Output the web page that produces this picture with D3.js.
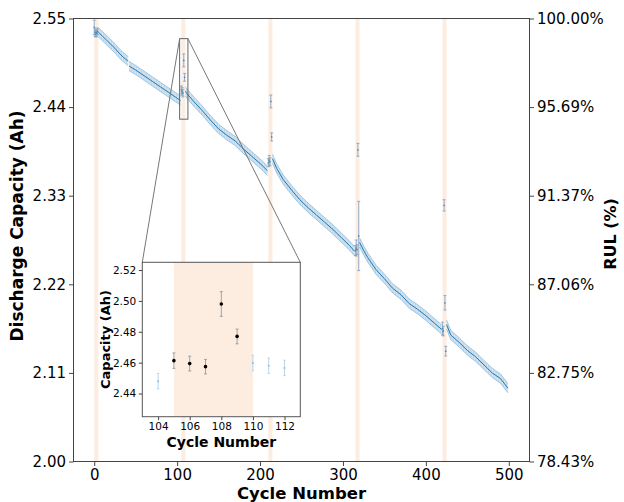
<!DOCTYPE html>
<html>
<head>
<meta charset="utf-8">
<script src="https://cdnjs.cloudflare.com/ajax/libs/d3/7.8.5/d3.min.js"></script>
<style>
  body { margin: 0; background: #fff; }
  text { font-family: "DejaVu Sans", sans-serif; }
</style>
</head>
<body>
<div id="chart"></div>
<script>
// mean discharge capacity per run segment (Ah)
const segACycles = [5, 10, 15, 20, 25, 30, 35, 41];
const segACap = [2.533, 2.528, 2.523, 2.518, 2.513, 2.507, 2.502, 2.497];
const segBCycles = [42, 50, 60, 70, 80, 90, 100, 104];
const segBCap = [2.491, 2.486, 2.479, 2.472, 2.465, 2.458, 2.451, 2.448];
const segCCycles = [110, 111, 112, 120, 130, 140, 150, 160, 170, 180, 190, 200, 209];
const segCCap = [2.4598, 2.458, 2.4566, 2.447, 2.436, 2.424, 2.413, 2.405, 2.398, 2.388, 2.379, 2.370, 2.361];
const segDCycles = [215, 220, 228, 238, 248, 258, 268, 278, 288, 298, 308, 314];
const segDCap = [2.376, 2.364, 2.350, 2.337, 2.325, 2.315, 2.306, 2.297, 2.288, 2.278, 2.268, 2.261];
const segECycles = [320, 325, 330, 340, 350, 360, 370, 380, 390, 400, 410, 419];
const segECap = [2.272, 2.262, 2.253, 2.238, 2.227, 2.215, 2.207, 2.196, 2.189, 2.181, 2.172, 2.164];
const segFCycles = [425, 430, 440, 450, 460, 470, 480, 490, 499];
const segFCap = [2.170, 2.157, 2.148, 2.138, 2.130, 2.120, 2.110, 2.103, 2.091];
const meanErr = 0.0058;

// anomaly cycles inside the shaded windows, with their own error bars
const outCycles = [0, 1, 2, 3, 4, 105, 106, 107, 108, 109, 210, 211, 212, 213, 214, 315, 316, 317, 318, 319, 420, 421, 422, 423, 424];
const outCap = [2.539, 2.533, 2.531, 2.532, 2.534, 2.4613, 2.4594, 2.4574, 2.498, 2.477, 2.371, 2.374, 2.372, 2.447, 2.403, 2.262, 2.265, 2.263, 2.387, 2.280, 2.165, 2.162, 2.318, 2.197, 2.137];
const outErr = [0.009, 0.005, 0.004, 0.004, 0.004, 0.005, 0.0048, 0.0047, 0.008, 0.0048, 0.005, 0.006, 0.005, 0.008, 0.005, 0.006, 0.010, 0.006, 0.008, 0.043, 0.008, 0.006, 0.007, 0.009, 0.006];

const bandStarts = [0, 105, 210, 315, 420];
const bandSpan = 5;

const xTicks = [0, 100, 200, 300, 400, 500];
const yTicks = [2.00, 2.11, 2.22, 2.33, 2.44, 2.55];
const nominalCap = 2.55;

const insetXTicks = [104, 106, 108, 110, 112];
const insetYTicks = [2.44, 2.46, 2.48, 2.50, 2.52];
const insetXDomain = [103, 113];
const insetYDomain = [2.425, 2.525];

const W = 624, H = 502;
const m = { l: 73.5, r: 529.5, t: 18.5, b: 461.5 };
const blue = '#1f77b4';
const peach = '#fdede1';
const spine = '#444';

const segments = [
  [segACycles, segACap], [segBCycles, segBCap], [segCCycles, segCCap],
  [segDCycles, segDCap], [segECycles, segECap], [segFCycles, segFCap]
].map(([cs, vs]) => cs.map((c, i) => ({ c, v: vs[i], e: meanErr })));
const outliers = outCycles.map((c, i) => ({ c, v: outCap[i], e: outErr[i] }));

const x = d3.scaleLinear().domain([-25, 525]).range([m.l, m.r]);
const y = d3.scaleLinear().domain([2.00, 2.55]).range([m.b, m.t]);

const svg = d3.select('#chart').append('svg')
  .attr('width', W).attr('height', H)
  .style('background-color', 'white');

const defs = svg.append('defs');
defs.append('clipPath').attr('id', 'plotclip')
  .append('rect').attr('x', m.l).attr('y', m.t)
  .attr('width', m.r - m.l).attr('height', m.b - m.t);
// faint vertical hatching: the per-cycle error bars inside the band
const hatch = defs.append('pattern').attr('id', 'hatch')
  .attr('patternUnits', 'userSpaceOnUse').attr('width', 1.66).attr('height', 4);
hatch.append('rect').attr('width', 1.66).attr('height', 4).style('fill', blue).style('fill-opacity', 0.18);
hatch.append('line').attr('x1', 0.4).attr('x2', 0.4).attr('y1', 0).attr('y2', 4)
  .style('stroke', blue).style('stroke-opacity', 0.22).style('stroke-width', 0.6);

const plot = svg.append('g').attr('clip-path', 'url(#plotclip)');

// shaded windows
plot.selectAll('rect.band')
  .data(bandStarts)
  .enter().append('rect')
  .attr('class', 'band')
  .attr('x', d => x(d))
  .attr('width', d => x(d + bandSpan) - x(d))
  .attr('y', m.t).attr('height', m.b - m.t)
  .style('fill', peach);

// uncertainty band + mean line per segment
const area = d3.area().x(d => x(d.c)).y0(d => y(d.v - d.e)).y1(d => y(d.v + d.e));
const line = d3.line().x(d => x(d.c)).y(d => y(d.v));
const lineHi = d3.line().x(d => x(d.c)).y(d => y(d.v + d.e));
const lineLo = d3.line().x(d => x(d.c)).y(d => y(d.v - d.e));

segments.forEach(seg => {
  plot.append('path').datum(seg).attr('d', area)
    .style('fill', 'url(#hatch)').style('stroke', 'none');
  [lineHi, lineLo].forEach(l => {
    plot.append('path').datum(seg).attr('d', l)
      .style('fill', 'none').style('stroke', blue)
      .style('stroke-opacity', 0.4).style('stroke-width', 0.8);
  });
  plot.append('path').datum(seg).attr('d', line)
    .style('fill', 'none').style('stroke', blue).style('stroke-width', 1);
});

// anomaly error bars
const ob = plot.selectAll('g.out').data(outliers).enter().append('g').attr('class', 'out');
ob.append('line')
  .attr('x1', d => x(d.c)).attr('x2', d => x(d.c))
  .attr('y1', d => y(d.v - d.e)).attr('y2', d => y(d.v + d.e))
  .style('stroke', '#7d9dbd').style('stroke-width', 0.8);
[1, -1].forEach(s => {
  ob.append('line')
    .attr('x1', d => x(d.c) - 1.5).attr('x2', d => x(d.c) + 1.5)
    .attr('y1', d => y(d.v + s * d.e)).attr('y2', d => y(d.v + s * d.e))
    .style('stroke', '#7d9dbd').style('stroke-width', 0.8);
});
ob.append('circle')
  .attr('cx', d => x(d.c)).attr('cy', d => y(d.v)).attr('r', 0.9)
  .style('fill', blue).style('fill-opacity', 0.7);

// axes
const styleAxis = (g, size) => {
  g.select('.domain').remove();
  g.selectAll('.tick line').style('stroke', spine);
  g.selectAll('.tick text').style('font-size', size + 'px').style('fill', '#000')
    .style('font-family', '"DejaVu Sans", sans-serif');
};

svg.append('g').attr('transform', `translate(0,${m.b})`)
  .call(d3.axisBottom(x).tickValues(xTicks).tickSize(4.5).tickPadding(3))
  .call(g => styleAxis(g, 15));
svg.append('g').attr('transform', `translate(${m.l},0)`)
  .call(d3.axisLeft(y).tickValues(yTicks).tickFormat(d3.format('.2f')).tickSize(4.5).tickPadding(3))
  .call(g => styleAxis(g, 15));
svg.append('g').attr('transform', `translate(${m.r},0)`)
  .call(d3.axisRight(y).tickValues(yTicks)
    .tickFormat(d => (d / nominalCap * 100).toFixed(2) + '%').tickSize(4.5).tickPadding(3))
  .call(g => styleAxis(g, 15));

svg.append('rect')
  .attr('x', m.l).attr('y', m.t).attr('width', m.r - m.l).attr('height', m.b - m.t)
  .style('fill', 'none').style('stroke', spine).style('stroke-width', 1);

svg.append('text')
  .attr('transform', `translate(23,${(m.t + m.b) / 2 - 14}) rotate(-90)`)
  .attr('text-anchor', 'middle')
  .style('font-size', '17px').style('font-weight', 'bold')
  .text('Discharge Capacity (Ah)');
svg.append('text')
  .attr('x', (m.l + m.r) / 2).attr('y', 499)
  .attr('text-anchor', 'middle')
  .style('font-size', '16.5px').style('font-weight', 'bold')
  .text('Cycle Number');
svg.append('text')
  .attr('transform', `translate(616,${(m.t + m.b) / 2 - 6}) rotate(-90)`)
  .attr('text-anchor', 'middle')
  .style('font-size', '16px').style('font-weight', 'bold')
  .text('RUL (%)');

// inset
const ib = { l: 142.3, r: 300.3, t: 262.3, b: 416.7 };
const xi = d3.scaleLinear().domain(insetXDomain).range([ib.l, ib.r]);
const yi = d3.scaleLinear().domain(insetYDomain).range([ib.b, ib.t]);

// zoom marker in main axes and connectors
svg.append('rect')
  .attr('x', x(insetXDomain[0])).attr('y', y(insetYDomain[1]))
  .attr('width', x(insetXDomain[1]) - x(insetXDomain[0]))
  .attr('height', y(insetYDomain[0]) - y(insetYDomain[1]))
  .style('fill', 'none').style('stroke', '#666').style('stroke-width', 1);
svg.append('line')
  .attr('x1', x(insetXDomain[0])).attr('y1', y(insetYDomain[1]))
  .attr('x2', ib.l).attr('y2', ib.t)
  .style('stroke', '#777').style('stroke-width', 1);
svg.append('line')
  .attr('x1', x(insetXDomain[1])).attr('y1', y(insetYDomain[1]))
  .attr('x2', ib.r).attr('y2', ib.t)
  .style('stroke', '#777').style('stroke-width', 1);

const inset = svg.append('g');
inset.append('rect')
  .attr('x', ib.l).attr('y', ib.t).attr('width', ib.r - ib.l).attr('height', ib.b - ib.t)
  .style('fill', '#fff');
inset.selectAll('rect.iband')
  .data(bandStarts.filter(b => b + bandSpan > insetXDomain[0] && b < insetXDomain[1]))
  .enter().append('rect').attr('class', 'iband')
  .attr('x', d => Math.max(ib.l, xi(d)))
  .attr('width', d => Math.min(ib.r, xi(d + bandSpan)) - Math.max(ib.l, xi(d)))
  .attr('y', ib.t).attr('height', ib.b - ib.t)
  .style('fill', peach);

const inRange = d => d.c >= insetXDomain[0] && d.c <= insetXDomain[1];
const normalPts = segments.flat().filter(inRange).map(d => ({ ...d, e: 0.005 }));
const flagged = outliers.filter(inRange);

const drawBars = (pts, color, width, cap) => {
  const g = inset.selectAll(null).data(pts).enter().append('g');
  g.append('line')
    .attr('x1', d => xi(d.c)).attr('x2', d => xi(d.c))
    .attr('y1', d => yi(d.v - d.e)).attr('y2', d => yi(d.v + d.e))
    .style('stroke', color).style('stroke-width', width);
  [1, -1].forEach(s => {
    g.append('line')
      .attr('x1', d => xi(d.c) - cap).attr('x2', d => xi(d.c) + cap)
      .attr('y1', d => yi(d.v + s * d.e)).attr('y2', d => yi(d.v + s * d.e))
      .style('stroke', color).style('stroke-width', width);
  });
  return g;
};
drawBars(normalPts, '#a9cbe4', 0.8, 1.2)
  .append('circle').attr('cx', d => xi(d.c)).attr('cy', d => yi(d.v)).attr('r', 1)
  .style('fill', '#8fbbe0');
drawBars(flagged, '#9a9a9a', 0.9, 1.5)
  .append('circle').attr('cx', d => xi(d.c)).attr('cy', d => yi(d.v)).attr('r', 1.8)
  .style('fill', '#000');

inset.append('g').attr('transform', `translate(0,${ib.b})`)
  .call(d3.axisBottom(xi).tickValues(insetXTicks).tickSize(3.5).tickPadding(2.5))
  .call(g => styleAxis(g, 10.5));
inset.append('g').attr('transform', `translate(${ib.l},0)`)
  .call(d3.axisLeft(yi).tickValues(insetYTicks).tickFormat(d3.format('.2f')).tickSize(3.5).tickPadding(2.5))
  .call(g => styleAxis(g, 10.5));
inset.append('rect')
  .attr('x', ib.l).attr('y', ib.t).attr('width', ib.r - ib.l).attr('height', ib.b - ib.t)
  .style('fill', 'none').style('stroke', '#555').style('stroke-width', 1);

inset.append('text')
  .attr('transform', `translate(110,${(ib.t + ib.b) / 2}) rotate(-90)`)
  .attr('text-anchor', 'middle')
  .style('font-size', '13px').style('font-weight', 'bold')
  .text('Capacity (Ah)');
inset.append('text')
  .attr('x', (ib.l + ib.r) / 2).attr('y', 447)
  .attr('text-anchor', 'middle')
  .style('font-size', '14px').style('font-weight', 'bold')
  .text('Cycle Number');
</script>
</body>
</html>
